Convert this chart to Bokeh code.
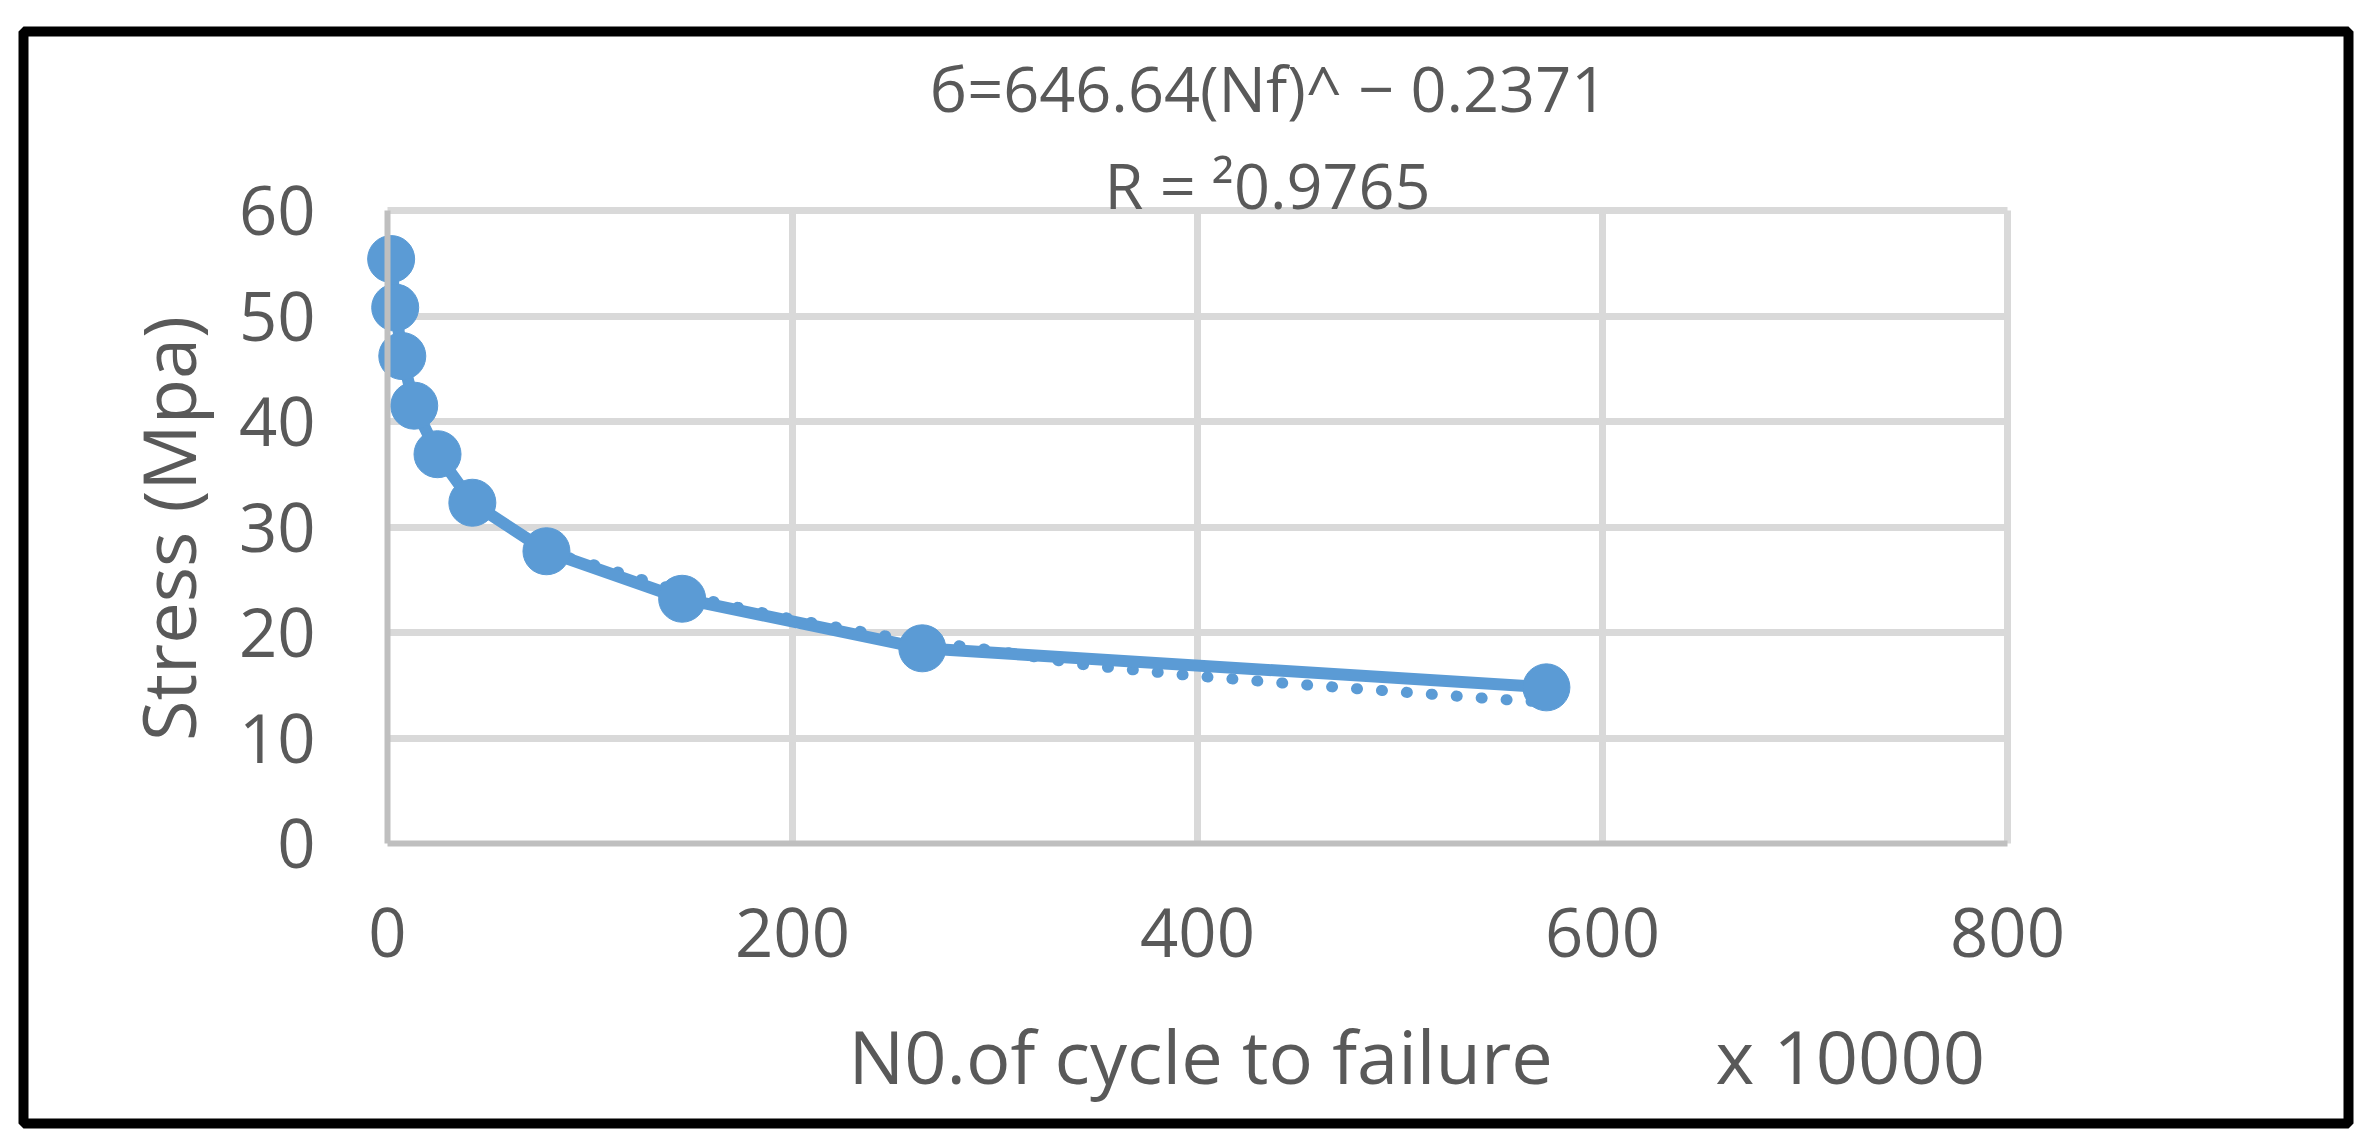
import math
from bokeh.plotting import figure
from bokeh.models import Range1d, Label, BoxAnnotation, FixedTicker, Grid
from bokeh.embed import file_html
from bokeh.resources import INLINE

# ---- data ----
cycles = [1.8, 3.8, 7.3, 13.2, 24.7, 41.9, 78.5, 145.5, 264.1, 572.3]   # x 10000 cycles
stress = [55.4, 50.8, 46.2, 41.5, 36.9, 32.3, 27.7, 23.2, 18.5, 14.8]   # MPa

trend_x = [1.8, 3.8, 7.3, 13.2, 24.7, 41.9, 78.5, 104, 163, 199, 248, 284, 296,
           345.5, 394.7, 455.9, 505, 554, 572.3]
trend_y = [55.4, 50.8, 46.2, 41.5, 36.9, 32.3, 27.7, 26.3, 22.8, 21.3, 19.6, 18.7, 18.4,
           16.9, 15.95, 15.0, 14.3, 13.6, 13.4]

x_ticks = [0, 200, 400, 600, 800]
y_ticks = [0, 10, 20, 30, 40, 50, 60]

title_line1 = "б=646.64(Nf)^ − 0.2371"
title_line2 = "R = ²0.9765"
y_label = "Stress (Mpa)"
x_label = "N0.of cycle to failure"
x_unit = "x 10000"

# ---- layout (canvas pixels) ----
W, H = 2358, 1132
PL, PR, PT, PB = 387, 2007, 210, 843   # plot area edges
XMIN, XMAX, YMIN, YMAX = 0, 800, 0, 60
sx = (PR - PL) / (XMAX - XMIN)
sy = (PB - PT) / (YMAX - YMIN)

def dx(px):
    return XMIN + (px - PL) / sx

def dy(py):
    return YMIN + (PB - py) / sy

TXT = "#595959"
BLUE = "#5B9BD5"
GRID = "#D9D9D9"
FONT = "Open Sans"

p = figure(width=W, height=H, output_backend="svg", toolbar_location=None,
           x_range=Range1d(dx(0), dx(W)), y_range=Range1d(dy(H), dy(0)),
           min_border=0)
p.title.visible = False
p.outline_line_color = None
p.background_fill_color = "white"
p.border_fill_color = "white"

for ax in (p.xaxis[0], p.yaxis[0]):
    ax.fixed_location = 0
    ax.axis_line_color = "#BFBFBF"
    ax.axis_line_width = 6
    ax.major_tick_line_color = None
    ax.minor_tick_line_color = None
    ax.major_tick_out = 0
    ax.major_tick_in = 0
    ax.major_label_text_font = FONT
    ax.major_label_text_font_size = "67px"
    ax.major_label_text_color = TXT
p.xaxis[0].bounds = (XMIN, XMAX)
p.yaxis[0].bounds = (YMIN, YMAX)
p.xaxis[0].ticker = FixedTicker(ticks=x_ticks)
p.yaxis[0].ticker = FixedTicker(ticks=y_ticks)
p.xaxis[0].major_label_standoff = 64
p.yaxis[0].major_label_standoff = 72

grid_x = [t for t in x_ticks if t != XMIN]
grid_y = [t for t in y_ticks if t != YMIN]
if "cross_bounds" in Grid.properties():
    for g in (p.xgrid[0], p.ygrid[0]):
        g.grid_line_color = GRID
        g.grid_line_width = 7
    p.xgrid[0].ticker = FixedTicker(ticks=grid_x)
    p.ygrid[0].ticker = FixedTicker(ticks=grid_y)
    p.xgrid[0].bounds = (XMIN, XMAX)
    p.xgrid[0].cross_bounds = (YMIN, YMAX)
    p.ygrid[0].bounds = (YMIN, YMAX)
    p.ygrid[0].cross_bounds = (XMIN, XMAX)
else:
    p.xgrid.visible = False
    p.ygrid.visible = False
    p.segment(x0=grid_x, y0=[YMIN] * len(grid_x), x1=grid_x, y1=[YMAX] * len(grid_x),
              line_color=GRID, line_width=7, level="underlay")
    p.segment(x0=[XMIN] * len(grid_y), y0=grid_y, x1=[XMAX] * len(grid_y), y1=grid_y,
              line_color=GRID, line_width=7, level="underlay")

# trend (dotted) line
p.line(trend_x, trend_y, line_color=BLUE, line_width=11, line_dash="1 24", line_cap="round")
# data line and markers
p.line(cycles, stress, line_color=BLUE, line_width=12)
p.scatter(cycles, stress, size=47, fill_color=BLUE, line_color=BLUE)

def lab(px, py, text, size, align="left", angle=0.0):
    p.add_layout(Label(x=dx(px), y=dy(py), text=text, text_font=FONT,
                       text_font_size=size, text_color=TXT, text_align=align,
                       text_baseline="alphabetic", angle=angle))

# titles (baseline pixel positions, corrected for the label anchor offset)
lab(1268, 113 - 26, title_line1, "63px", "center")
lab(1267, 212 - 28, title_line2, "63px", "center")
# axis titles
lab(195 - 28, 528, y_label, "74px", "center", math.pi / 2)
lab(848, 1087 - 32, x_label, "74px", "left")
lab(1715, 1087 - 32, x_unit, "74px", "left")

# outer black frame
p.add_layout(BoxAnnotation(left=dx(23), right=dx(2348), top=dy(31), bottom=dy(1123),
                           fill_alpha=0, line_color="black", line_alpha=1.0,
                           line_width=10, level="overlay"))

open("out.html", "w").write(file_html(p, INLINE))
